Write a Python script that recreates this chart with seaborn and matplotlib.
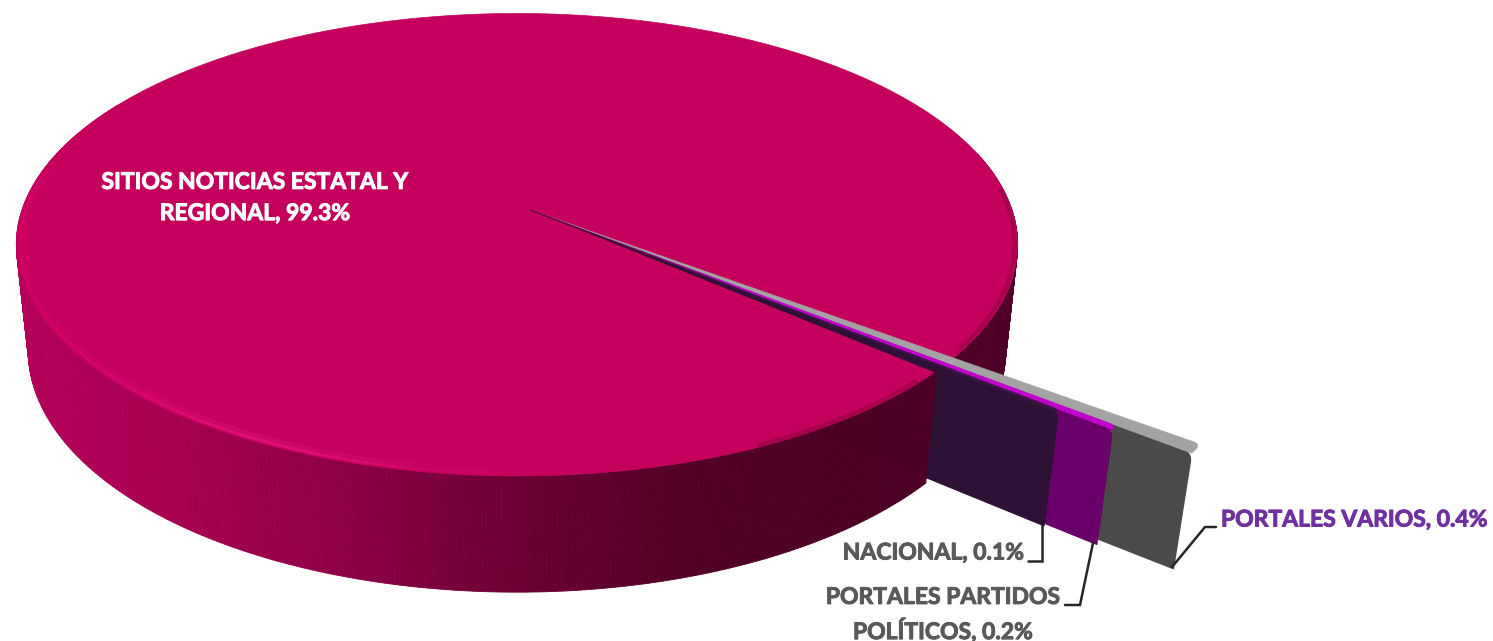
import numpy as np
import seaborn as sns
import matplotlib.pyplot as plt
import matplotlib.patheffects as pe
from matplotlib.collections import PolyCollection, LineCollection
from matplotlib.colors import Normalize

categories = ["SITIOS NOTICIAS ESTATAL Y\nREGIONAL", "NACIONAL", "PORTALES PARTIDOS\nPOLÍTICOS", "PORTALES VARIOS"]
shares = [99.3, 0.1, 0.2, 0.4]

# how far each slice reaches, main pie = 1
reach = [1.0, 1.225, 1.33, 1.475]
top_colors = ["#c4005c", "#3a1745", "#c400cc", "#a3a3a3"]
wall_colors = ["#7a0038", "#2e1236", "#6a006a", "#4a4a4a"]

# camera for the fake 3D look
cx, cy = 517, 210
apex_shift = 0.026
rx, ry = 495.0, 226.0
tilt = 0.15
depth = 108.0
sink = 0.024
start_angle = -40.0


def project(r, angle, z=0.0, shift=0.0):
    x = r * np.cos(np.radians(angle)) + shift
    y = r * np.sin(np.radians(angle))
    w = 1 + tilt * y + sink * z
    return np.column_stack([cx + rx * x / w, cy + (-ry * y + depth * z) / w])


def round_corner(before, tip, after, corner):
    p0 = tip + (before - tip) / np.linalg.norm(before - tip) * corner
    p1 = tip + (after - tip) / np.linalg.norm(after - tip) * corner
    t = np.linspace(0, 1, 10)[:, None]
    return (1 - t) ** 2 * p0 + 2 * t * (1 - t) * tip + t ** 2 * p1


def radial_wall(r0, r1, angle, corner=9.0):
    a = project(np.array([r0, r1]), angle, 0.0, apex_shift)
    b = project(np.array([r1, r0]), angle, 1.0, apex_shift)
    return np.vstack([a[:1], round_corner(a[0], a[1], b[0], corner), b])


def arc_wall(a0, a1, step=0.5):
    angles = np.arange(a0, a1 + step, step)
    facets = []
    for i in range(len(angles) - 1):
        pair = np.array([angles[i], angles[i + 1]])
        facets.append(np.vstack([project(1.0, pair, 0.0), project(1.0, pair[::-1], 1.0)]))
    return facets


def main_top(a0, a1):
    return np.vstack([project(0.0, 0.0, 0.0, apex_shift), project(1.0, np.arange(a0, a1, 1.0))])


def small_top(r, a0, a1):
    apex = project(0.0, 0.0, 0.0, apex_shift)[0]
    low, high = project(r, np.array([a0, a1]), 0.0, apex_shift)
    return np.vstack([apex, low, round_corner(low, high, apex, 9.0)[:-1], apex])


sns.set_theme(style="white")
plt.rcParams["font.family"] = ["Lato", "DejaVu Sans"]

fig = plt.figure(figsize=(14.93, 6.41), dpi=100)
ax = fig.add_axes([0, 0, 1, 1])
ax.set_xlim(0, 1493)
ax.set_ylim(641, 0)
ax.axis("off")

spans = np.array(shares) / sum(shares) * 360
small_edges = start_angle + np.cumsum(np.r_[0, spans[1:]])
main_end = small_edges[-1] + spans[0]

side_cmap = sns.blend_palette(["#b4005a", "#a6004f", "#8c0046", "#6c0034", "#540026", "#4c0024", "#500028"], as_cmap=True)
side_norm = Normalize(15, 1020)
rim_cmap = sns.blend_palette(["#d6006a", "#ea1480", "#c8005e", "#c4005c", "#c4005c"], as_cmap=True)


def side_collection(facets):
    colors = side_cmap(side_norm([f[:, 0].mean() for f in facets]))
    return PolyCollection(facets, facecolors=colors, edgecolors=colors, linewidths=0.6)


# rear part of the main wall, to the right of the slices
ax.add_collection(side_collection(arc_wall(small_edges[-1], 15)))

# slice walls, longest one first
for i in [3, 2, 1]:
    ax.add_patch(plt.Polygon(radial_wall(0.0, reach[i], small_edges[i - 1]), closed=True,
                             facecolor=wall_colors[i], edgecolor=wall_colors[i], lw=1.0, joinstyle="round"))

# front part of the main wall and the top
ax.add_collection(side_collection(arc_wall(150, 360 + start_angle)))
ax.add_patch(plt.Polygon(main_top(small_edges[-1], main_end), closed=True,
                         facecolor=top_colors[0], edgecolor=top_colors[0], lw=0.5))

# lighter bevel on the rim
rim_angles = np.arange(170, 300, 1.0)
for rim_r, rim_w, rim_a in [(0.985, 5, 0.35), (0.992, 2, 0.7)]:
    rim = project(rim_r, rim_angles)
    segs = np.stack([rim[:-1], rim[1:]], axis=1)
    ax.add_collection(LineCollection(segs, colors=rim_cmap(side_norm(rim[:-1, 0])), linewidths=rim_w, alpha=rim_a))

# soft dark edge where the top meets the shaded side
for a0, a1 in [(295, 318), (small_edges[-1] + 3, 6)]:
    soft = project(0.994, np.arange(a0, a1, 1.0))
    ax.plot(soft[:, 0], soft[:, 1], color="#7a0038", lw=3, alpha=0.4, solid_capstyle="butt")

# tops of the small slices
for i in [3, 2, 1]:
    ax.add_patch(plt.Polygon(small_top(reach[i], small_edges[i - 1], small_edges[i]), closed=True,
                             facecolor=top_colors[i], edgecolor=top_colors[i], lw=0.4, joinstyle="round"))

# the sliver melts into a dark hairline towards the centre
fade_r = np.linspace(0.0, 0.55, 40)
fade = project(fade_r, small_edges[1], 0.0, apex_shift)
fade_colors = np.array([[0.30, 0.02, 0.20, 1 - f / 0.55] for f in fade_r[:-1]])
ax.add_collection(LineCollection(np.stack([fade[:-1], fade[1:]], axis=1), colors=fade_colors,
                                 linewidths=np.linspace(0.6, 3.0, 39)))

# labels
label_font = dict(fontsize=16.5, fontweight="bold", va="center")
labels = [
    ax.text(255, 198, f"{categories[0]}, {shares[0]}%", color="white", ha="center", linespacing=1.6, **label_font),
    ax.text(1024, 553, f"{categories[1]}, {shares[1]}%", color="#595959", ha="right", **label_font),
    ax.text(943, 615, f"{categories[2]}, {shares[2]}%", color="#595959", ha="center", linespacing=1.5, **label_font),
    ax.text(1221, 520, f"{categories[3]}, {shares[3]}%", color="#7030a0", ha="left", **label_font),
]
for t in labels:
    t.set_path_effects([pe.withStroke(linewidth=0.7, foreground=t.get_color())])

leader = dict(color="#262626", lw=1.8, solid_joinstyle="miter")
ax.plot([1042, 1042, 1028], [525, 561, 561], **leader)
ax.plot([1093, 1080, 1065], [543, 605, 605], **leader)
ax.plot([1172, 1205, 1216], [567, 527, 527], **leader)

fig.savefig("out.png", dpi=100, facecolor="white")
